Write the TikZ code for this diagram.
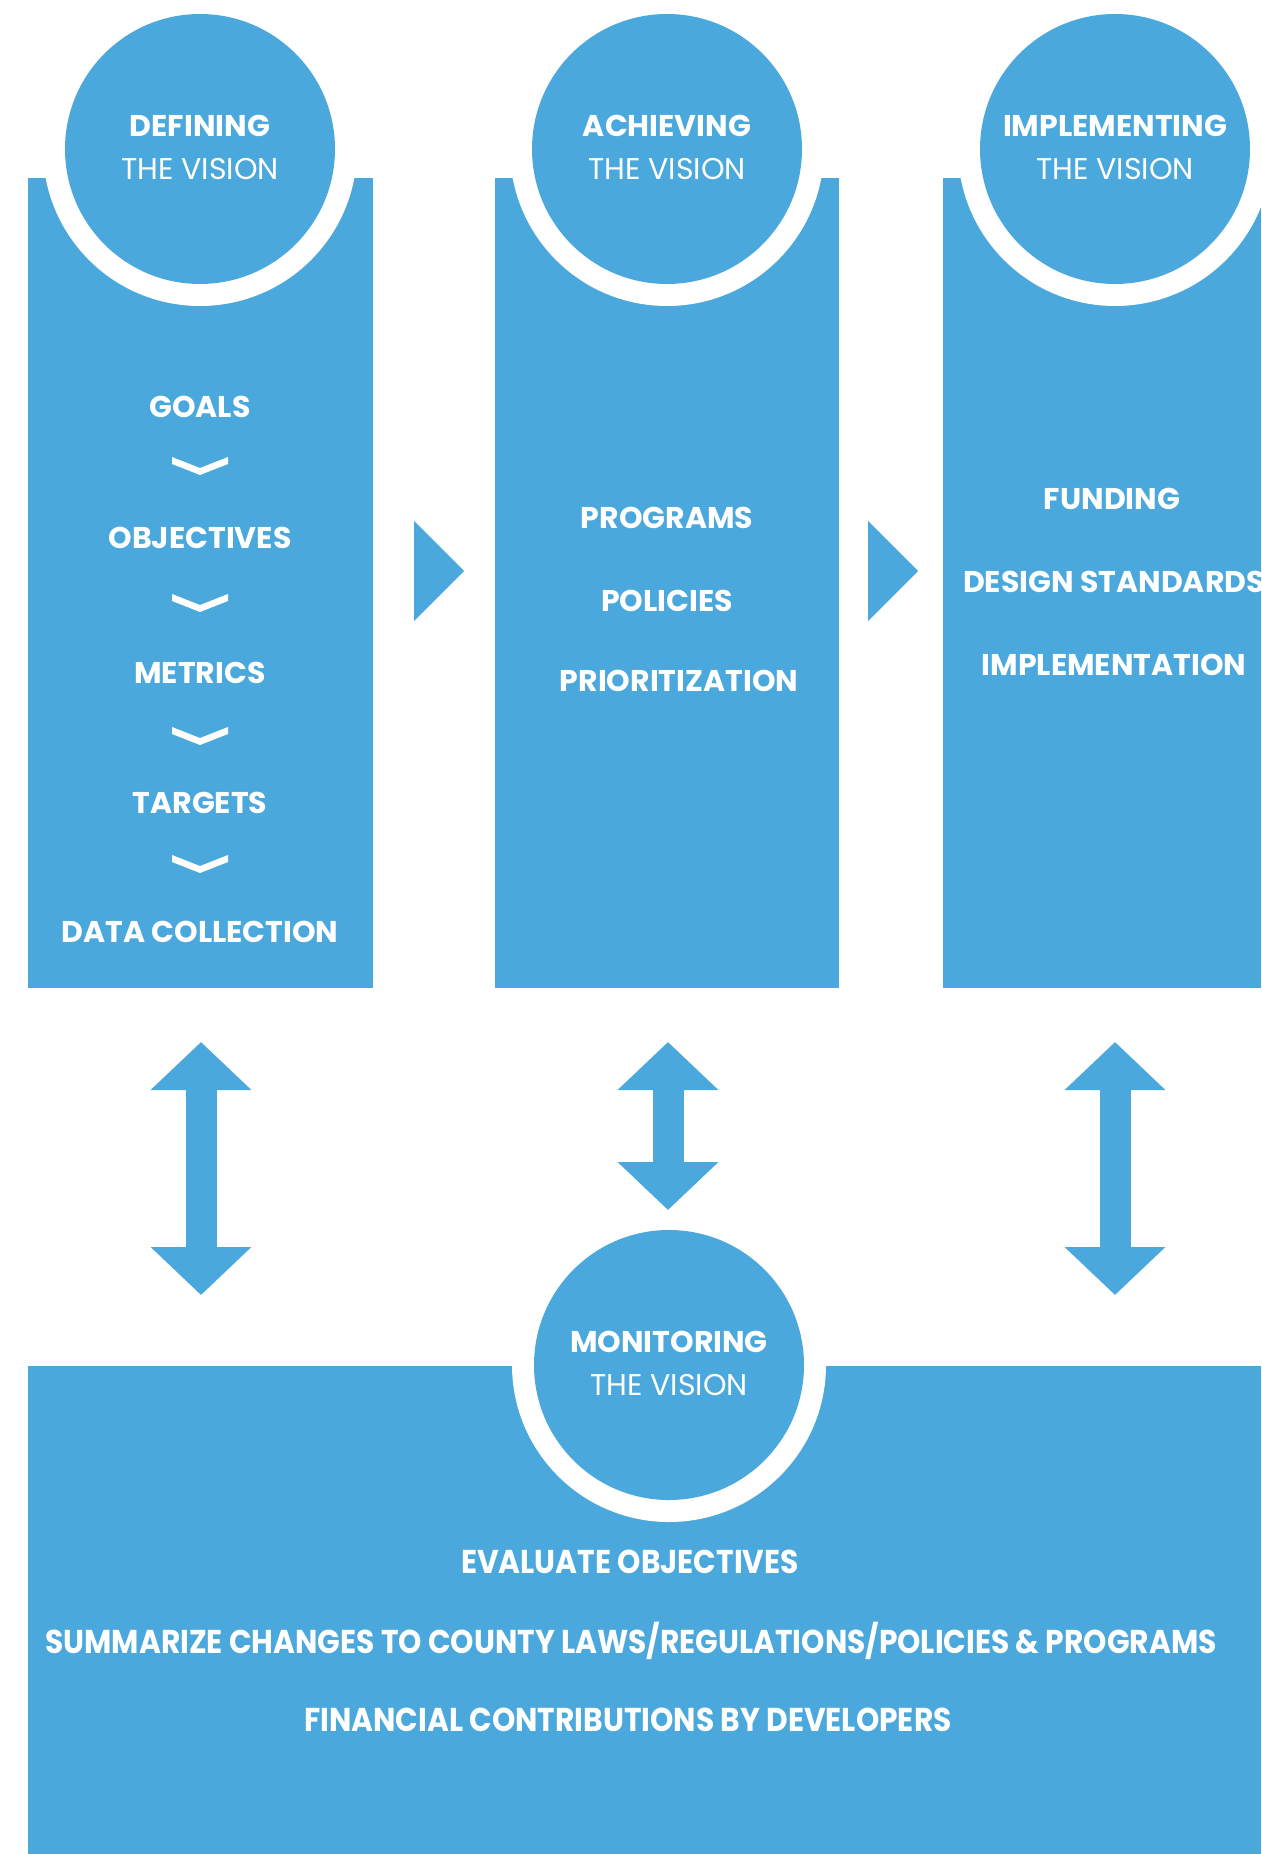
\documentclass[tikz,border=0pt]{standalone}
\usepackage{fontspec}
\setmainfont{Poppins}
\usepackage{graphicx}
\usetikzlibrary{arrows.meta}
\definecolor{visionBlue}{HTML}{4AA8DC}
\tikzset{%
  >={Triangle[width=98pt,length=48pt]},
  % Specifications for style of nodes:
            base/.style = {text=white, inner sep=0pt, font=\fontsize{30}{43}\selectfont},
           title/.style = {base, align=center},
            item/.style = {base, font=\fontsize{30}{43}\selectfont\bfseries},
          remark/.style = {base, font=\fontsize{33}{40}\selectfont\bfseries},
          ring/.style = {circle, fill=white, minimum size=314pt, inner sep=0pt},
          disc/.style = {circle, fill=visionBlue, minimum size=270pt, inner sep=0pt},
        twoWay/.style = {draw=visionBlue, line width=31pt, <->},
}

\begin{document}
\begin{tikzpicture}[x=1pt, y=-1pt]
\useasboundingbox (0,0) rectangle (1261,1854);
\clip (0,0) rectangle (1261,1854);

% panels
\fill[visionBlue] (28,178) rectangle (373,988);
\fill[visionBlue] (495,178) rectangle (839,988);
\fill[visionBlue] (943,178) rectangle (1261,988);
\fill[visionBlue] (28,1366) rectangle (1261,1854);

% circles on top of the panels
\node (defineRing) at (200,149) [ring] {};
\node (defineCircle) at (200,149) [disc] {};
\node (achieveRing) at (667,149) [ring] {};
\node (achieveCircle) at (667,149) [disc] {};
\node (implementRing) at (1115,149) [ring] {};
\node (implementCircle) at (1115,149) [disc] {};
\node (monitorRing) at (669,1365) [ring] {};
\node (monitorCircle) at (669,1365) [disc] {};

\node (defineTitle) at ([yshift=2pt]defineCircle) [title] {{\bfseries DEFINING}\\THE VISION};
\node (achieveTitle) at ([yshift=2pt]achieveCircle) [title] {{\bfseries ACHIEVING}\\THE VISION};
\node (implementTitle) at ([yshift=2pt]implementCircle) [title] {{\bfseries IMPLEMENTING}\\THE VISION};
\node (monitorTitle) at ([yshift=2pt]monitorCircle) [title] {{\bfseries MONITORING}\\THE VISION};

% defining the vision
\node (goals) at (200,407) [item] {GOALS};
\node (objectives) at (200,538) [item] {OBJECTIVES};
\node (metrics) at (200,673) [item] {METRICS};
\node (targets) at (200,803) [item] {TARGETS};
\node (dataCollection) at (200,932) [item] {DATA COLLECTION};
\foreach \y in {466,603,736,864}
  \fill[white] (200,\y) ++(-28,-9) -- ++(28,11) -- ++(28,-11) -- ++(0,7) -- ++(-28,11) -- ++(-28,-11) -- cycle;

% achieving the vision
\node (programs) at (667,518) [item] {PROGRAMS};
\node (policies) at (667,601) [item] {POLICIES};
\node (prioritization) at (679,681) [item] {PRIORITIZATION};

% implementing the vision
\node (funding) at (1112,499) [item] {FUNDING};
\node (designStandards) at (1114,582) [item] {DESIGN STANDARDS};
\node (implementation) at (1114,665) [item] {IMPLEMENTATION};

% step arrows
\fill[visionBlue] (414,521) -- (464,571) -- (414,621) -- cycle;
\fill[visionBlue] (868,521) -- (918,571) -- (868,621) -- cycle;

% two way arrows
\coordinate (defineTop) at (201,1042);
\coordinate (defineBottom) at (201,1295);
\coordinate (achieveTop) at (668,1042);
\coordinate (achieveBottom) at (668,1210);
\coordinate (implementTop) at (1115,1042);
\coordinate (implementBottom) at (1115,1295);
\draw[twoWay] (defineTop) -- (defineBottom);
\draw[twoWay] (achieveTop) -- (achieveBottom);
\draw[twoWay] (implementTop) -- (implementBottom);

% monitoring the vision
\node (evaluate) at (630,1562) [remark] {\scalebox{0.9}[1]{EVALUATE OBJECTIVES}};
\node (summarize) at (631,1641) [remark] {\scalebox{0.9}[1]{SUMMARIZE CHANGES TO COUNTY LAWS/REGULATIONS/POLICIES \& PROGRAMS}};
\node (financial) at (628,1720) [remark] {\scalebox{0.9}[1]{FINANCIAL CONTRIBUTIONS BY DEVELOPERS}};
\end{tikzpicture}
\end{document}
